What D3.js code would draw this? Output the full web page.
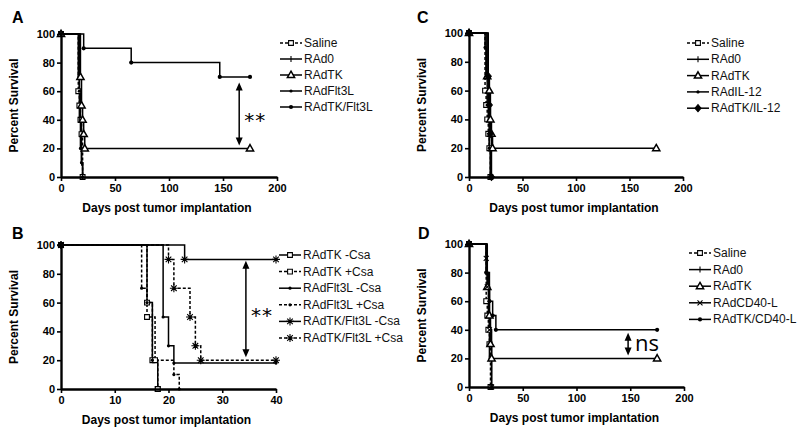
<!DOCTYPE html>
<html>
<head>
<meta charset="utf-8">
<script src="https://cdn.jsdelivr.net/npm/d3@7"></script>
<style>
  body { margin: 0; background: #fff; }
  svg { display: block; font-family: "Liberation Sans", Arial, sans-serif; }
</style>
</head>
<body>
<svg width="800" height="432"></svg>
<script>
// ---- data ----
var yTicks = [0, 20, 40, 60, 80, 100];
var dayTicks = [0, 50, 100, 150, 200];
var dayTicksB = [0, 10, 20, 30, 40];

// A : Flt3L
var namesA = ["Saline", "RAd0", "RAdTK", "RAdFlt3L", "RAdTK/Flt3L"];
var stepsA = [
    [[16, 60], [17, 50], [18, 40], [19, 30], [20, 0]],
    [[16, 70], [17, 40], [19, 10], [20, 0]],
    [[18, 70], [19, 50], [20, 40], [21, 30], [22, 20]],
    [[17, 60], [18, 20], [19, 10], [20, 0]],
    [[21, 90], [65, 80], [147, 70]]
];
var censorA = [null, null, [175, 20], null, [175, 70]];

// B : Csa
var namesB = ["RAdTK -Csa", "RAdTK +Csa", "RAdFlt3L -Csa", "RAdFlt3L +Csa", "RAdTK/Flt3L -Csa", "RAdTK/Flt3L +Csa"];
var stepsB = [
    [[16, 60], [17, 20], [18, 0]],
    [[16, 50], [17.5, 20], [18, 0]],
    [[19, 50], [20, 30], [21, 18]],
    [[15, 70], [16, 60], [17, 20], [21, 10], [22, 0]],
    [[23, 90]],
    [[20, 90], [21, 70], [24, 50], [25, 30], [26, 20]]
];
var censorB = [null, null, [40, 18], null, [40, 90], [40, 20]];

// C : IL-12
var namesC = ["Saline", "RAd0", "RAdTK", "RAdIL-12", "RAdTK/IL-12"];
var stepsC = [
    [[15, 60], [16, 50], [17, 40], [18, 30], [19, 20], [20, 0]],
    [[16, 70], [18, 40], [19, 20], [20, 0]],
    [[17, 70], [19, 60], [20, 40], [21, 30], [22, 20]],
    [[15, 90], [16, 70], [17, 50], [19, 20], [20, 0]],
    [[18, 70], [19, 50], [20, 30], [21, 0]]
];
var censorC = [null, null, [175, 20], null, null];

// D : CD40-L
var namesD = ["Saline", "RAd0", "RAdTK", "RAdCD40-L", "RAdTK/CD40-L"];
var stepsD = [
    [[16, 60], [17, 50], [18, 40], [19, 30], [20, 0]],
    [[16, 80], [18, 50], [19, 20], [21, 0]],
    [[17, 70], [19, 50], [20, 30], [21, 20]],
    [[16, 90], [17, 70], [19, 40], [21, 0]],
    [[16, 80], [19, 60], [22, 50], [25, 40]]
];
var censorD = [null, null, [175, 20], null, [175, 40]];

// ---- drawing ----
var svg = d3.select("svg");

function markPath(type) {
    switch (type) {
        case "square": return "M-2.4,-2.4H2.4V2.4H-2.4Z";
        case "triangle": return "M0,-3.8L3.6,2.5H-3.6Z";
        case "plus": return "M0,-3V3";
        case "times": return "M-2.5,-2.5L2.5,2.5M-2.5,2.5L2.5,-2.5";
        case "asterisk": return "M0,-4V4M-4,0H4M-2.8,-2.8L2.8,2.8M-2.8,2.8L2.8,-2.8";
        case "diamond": return "M0,-3.5L3,0L0,3.5L-3,0Z";
    }
    return null;
}

function drawMark(g, type, px, py) {
    if (type == "dot" || type == "smalldot") {
        g.append("circle").attr("cx", px).attr("cy", py)
                .attr("r", type == "dot" ? 2.1 : 1.6).attr("fill", "#000");
        return;
    }
    var open = (type == "square" || type == "triangle");
    g.append("path")
            .attr("d", markPath(type))
            .attr("transform", "translate(" + px + "," + py + ")")
            .attr("fill", open ? "#fff" : (type == "diamond" ? "#000" : "none"))
            .attr("stroke", "#000")
            .attr("stroke-width", type == "triangle" ? 1.5 : 1.1);
}

function drawPanel(p) {
    var g = svg.append("g");
    var x = d3.scaleLinear().domain([0, p.xMax]).range([p.left, p.right]);
    var y = d3.scaleLinear().domain([0, 100]).range([p.bottom, p.top]);

    // curves
    var line = d3.line()
            .x(function (d) { return x(d[0]); })
            .y(function (d) { return y(d[1]); })
            .curve(d3.curveStepAfter);

    p.steps.forEach(function (ev, i) {
        var pts = [[0, 100]].concat(ev);
        if (p.censor[i]) pts.push(p.censor[i]);
        g.append("path")
                .attr("d", line(pts))
                .attr("fill", "none")
                .attr("stroke", "#000")
                .attr("stroke-width", 1.5)
                .attr("stroke-dasharray", p.styles[i].dash ? "3,2" : null);
    });
    p.steps.forEach(function (ev, i) {
        var pts = [[0, 100]].concat(ev);
        if (p.censor[i]) pts.push(p.censor[i]);
        pts.forEach(function (d) {
            drawMark(g, p.styles[i].mark, x(d[0]), y(d[1]));
        });
    });

    // axes
    var ay = g.append("g")
            .attr("transform", "translate(" + p.left + ",0)")
            .call(d3.axisLeft(y).tickValues(yTicks).tickSize(4).tickSizeOuter(0).tickPadding(2));
    var ax = g.append("g")
            .attr("transform", "translate(0," + p.bottom + ")")
            .call(d3.axisBottom(x).tickValues(p.xTicks).tickSize(4).tickSizeOuter(0).tickPadding(3));
    [ax, ay].forEach(function (a) {
        a.select(".domain").attr("stroke-width", 2.4);
        a.selectAll(".tick line").attr("stroke-width", 1.6);
        a.selectAll("text")
                .attr("font-family", "'Liberation Sans', Arial, sans-serif")
                .attr("font-size", 11).attr("font-weight", "bold").attr("fill", "#000");
    });

    g.append("text")
            .attr("transform", "translate(" + (p.left - 43) + "," + ((p.top + p.bottom) / 2) + ") rotate(-90)")
            .attr("text-anchor", "middle")
            .attr("font-size", 12).attr("font-weight", "bold")
            .text("Percent Survival");
    g.append("text")
            .attr("x", (p.left + p.right) / 2 - 2)
            .attr("y", p.bottom + 35)
            .attr("text-anchor", "middle")
            .attr("font-size", 12).attr("font-weight", "bold")
            .text("Days post tumor implantation");

    g.append("text")
            .attr("x", p.labelX).attr("y", p.labelY)
            .attr("font-size", 16).attr("font-weight", "bold")
            .text(p.label);

    // legend
    p.names.forEach(function (n, i) {
        var ly = p.legY + i * p.legStep;
        g.append("line")
                .attr("x1", p.legX).attr("x2", p.legX + 22)
                .attr("y1", ly).attr("y2", ly)
                .attr("stroke", "#000").attr("stroke-width", 1.5)
                .attr("stroke-dasharray", p.styles[i].dash ? "3,2" : null);
        drawMark(g, p.styles[i].mark, p.legX + 11, ly);
        g.append("text")
                .attr("x", p.legX + 24).attr("y", ly + 4)
                .attr("font-size", 12)
                .attr("fill", "#111")
                .text(n);
    });

    // significance arrow
    if (p.arrow) {
        var ax0 = x(p.arrow[0]), yt = y(p.arrow[1]), yb = y(p.arrow[2]);
        g.append("line")
                .attr("x1", ax0).attr("x2", ax0)
                .attr("y1", yt + 6).attr("y2", yb - 6)
                .attr("stroke", "#000").attr("stroke-width", 1.5);
        g.append("path")
                .attr("d", "M" + ax0 + "," + yt + "l-3.5,8h7z M" + ax0 + "," + yb + "l-3.5,-8h7z")
                .attr("fill", "#000");
        g.append("text")
                .attr("x", ax0 + p.sigDx).attr("y", (yt + yb) / 2 + p.sigDy)
                .attr("font-family", p.sigFont)
                .attr("font-size", p.sigSize)
                .attr("letter-spacing", p.sig == "**" ? 1 : 0)
                .text(p.sig);
    }
}

var sq = {dash: true, mark: "square"}, plus = {dash: false, mark: "plus"},
        tri = {dash: false, mark: "triangle"}, sdot = {dash: false, mark: "smalldot"},
        dot = {dash: false, mark: "dot"};

drawPanel({label: "A", labelX: 12, labelY: 23,
    left: 61, right: 277, top: 34, bottom: 177, xMax: 200, xTicks: dayTicks,
    names: namesA, steps: stepsA, censor: censorA,
    styles: [sq, plus, tri, sdot, dot],
    legX: 280, legY: 43, legStep: 16,
    arrow: [165, 66, 22], sig: "**", sigDx: 5, sigDy: 13, sigSize: 20, sigFont: "'DejaVu Sans', sans-serif"});

drawPanel({label: "B", labelX: 12, labelY: 239,
    left: 61, right: 276, top: 245, bottom: 389, xMax: 40, xTicks: dayTicksB,
    names: namesB, steps: stepsB, censor: censorB,
    styles: [{dash: false, mark: "square"}, sq, sdot, {dash: true, mark: "smalldot"},
        {dash: false, mark: "asterisk"}, {dash: true, mark: "asterisk"}],
    legX: 279, legY: 255, legStep: 16.6,
    arrow: [34.4, 89, 22], sig: "**", sigDx: 5, sigDy: 13, sigSize: 20, sigFont: "'DejaVu Sans', sans-serif"});

drawPanel({label: "C", labelX: 417, labelY: 23,
    left: 469, right: 683, top: 33, bottom: 177, xMax: 200, xTicks: dayTicks,
    names: namesC, steps: stepsC, censor: censorC,
    styles: [sq, plus, tri, sdot, {dash: false, mark: "diamond"}],
    legX: 687, legY: 43, legStep: 16.3});

drawPanel({label: "D", labelX: 418, labelY: 239,
    left: 469, right: 684, top: 244, bottom: 387, xMax: 200, xTicks: dayTicks,
    names: namesD, steps: stepsD, censor: censorD,
    styles: [sq, plus, tri, {dash: false, mark: "times"}, dot],
    legX: 689, legY: 253, legStep: 16.6,
    arrow: [148, 38, 22], sig: "ns", sigDx: 7, sigDy: 7, sigSize: 22, sigFont: "'Open Sans', 'DejaVu Sans', sans-serif"});
</script>
</body>
</html>
